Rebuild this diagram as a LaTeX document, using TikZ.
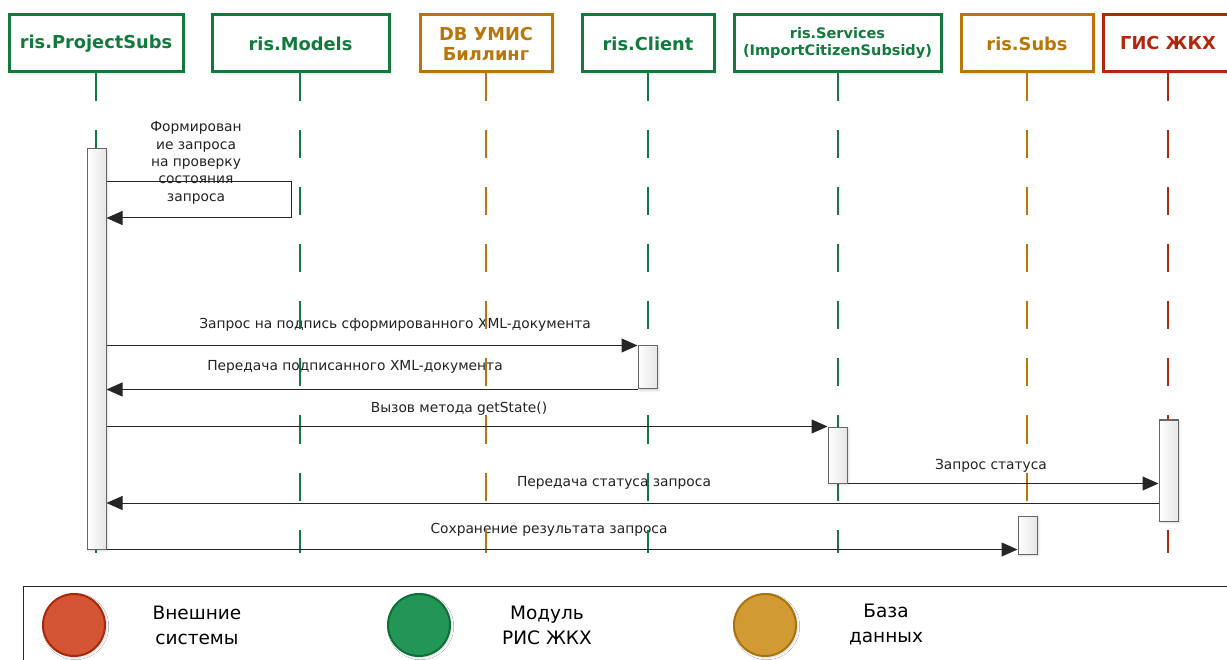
\documentclass[tikz,border=0pt]{standalone}
\usepackage{fontspec}
\setmainfont{DejaVu Sans}
\usetikzlibrary{arrows.meta,shadows.blur,calc}
\definecolor{cgreen}{RGB}{18,122,60}
\definecolor{corange}{RGB}{184,118,8}
\definecolor{cred}{RGB}{178,38,12}
\definecolor{ctext}{RGB}{35,35,35}
\definecolor{lred}{RGB}{211,85,52}
\definecolor{lredb}{RGB}{168,40,12}
\definecolor{lgreen}{RGB}{34,150,86}
\definecolor{lgreenb}{RGB}{14,112,56}
\definecolor{lorange}{RGB}{209,154,50}
\definecolor{lorangeb}{RGB}{170,116,12}
\tikzset{
  softshadow/.style={blur shadow={shadow xshift=1.5pt, shadow yshift=-1.5pt, shadow blur steps=4, shadow opacity=18}},
  head/.style={draw, line width=3pt, fill=white, minimum height=57pt, inner sep=2pt, align=center,
    font=\fontsize{17.8}{20}\selectfont\bfseries, softshadow},
  headsmall/.style={head, font=\fontsize{14.5}{17}\selectfont\bfseries},
  life/.style={line width=2.5pt, dash pattern=on 28pt off 29pt},
  act/.style={draw=black!60, line width=1pt, minimum width=19pt, inner sep=0pt,
    left color=white, right color=black!10, softshadow},
  msg/.style={line width=1pt, draw=black!85, -{Triangle[length=16pt,width=14pt]}},
  lbl/.style={font=\fontsize{13.8}{17.3}\selectfont, text=ctext, inner sep=0pt, align=center},
  legcircle/.style={circle, minimum size=62pt, line width=2pt, inner sep=0pt, softshadow},
  leglbl/.style={font=\fontsize{18.5}{25}\selectfont, text=black, inner sep=0pt, align=center},
}
\begin{document}
\begin{tikzpicture}[x=1pt,y=-1pt]
\useasboundingbox (0,0) rectangle (1227,660);
\clip (0,0) rectangle (1227,660);

% headers
\node[head, draw=cgreen, text=cgreen, minimum width=174pt] (h1) at (96,43.5) {ris.ProjectSubs};
\node[head, draw=cgreen, text=cgreen, minimum width=177pt] (h2) at (300.5,43.5) {ris.Models};
\node[head, draw=corange, text=corange, minimum width=132pt] (h3) at (486,43.5) {DB УМИС\\Биллинг};
\node[head, draw=cgreen, text=cgreen, minimum width=132pt] (h4) at (648,43.5) {ris.Client};
\node[headsmall, draw=cgreen, text=cgreen, minimum width=207pt] (h5) at (837.5,43.5) {ris.Services\\(ImportCitizenSubsidy)};
\node[head, draw=corange, text=corange, minimum width=132pt] (h6) at (1027,43.5) {ris.Subs};
\node[head, draw=cred, text=cred, minimum width=130pt] (h7) at (1168,43.5) {ГИС ЖКХ};

% lifeline ends
\coordinate (e1) at (96,553);
\coordinate (e2) at (300,553);
\coordinate (e3) at (486,553);
\coordinate (e4) at (648,553);
\coordinate (e5) at (838,553);
\coordinate (e6) at (1027,553);
\coordinate (e7) at (1168,553);

% labels
\node[lbl] (l1) at (196,163) {Формирован\\ие запроса\\на проверку\\состояния\\запроса};
\node[lbl] (l2) at (395,325) {Запрос на подпись сформированного XML-документа};
\node[lbl] (l3) at (355,367) {Передача подписанного XML-документа};
\node[lbl] (l4) at (459,409) {Вызов метода getState()};
\node[lbl] (l5) at (991,466) {Запрос статуса};
\node[lbl] (l6) at (614,483) {Передача статуса запроса};
\node[lbl] (l7) at (549,530) {Сохранение результата запроса};

% lifelines
\draw[life, cgreen] (h1.south -| e1) -- (e1);
\draw[life, cgreen] (h2.south -| e2) -- (e2);
\draw[life, corange] (h3.south -| e3) -- (e3);
\draw[life, cgreen] (h4.south -| e4) -- (e4);
\draw[life, cgreen] (h5.south -| e5) -- (e5);
\draw[life, corange] (h6.south -| e6) -- (e6);
\draw[life, cred] (h7.south -| e7) -- (e7);

% activations
\node[act, minimum height=400pt] (a1) at (96.5,349) {};
\node[act, minimum height=43pt] (a2) at (647.5,367.5) {};
\node[act, minimum height=56pt] (a3) at (837.5,455) {};
\node[act, minimum height=101pt] (a4) at (1168.5,470.5) {};
\node[act, minimum height=38pt] (a5) at (1027.5,535) {};

% self message
\coordinate (s0) at (106,182);
\coordinate (s1) at (291,182);
\coordinate (s2) at (291,218);
\coordinate (s3) at (106,218);
\draw[msg] (a1.east |- s0) -- (s1) -- (s2) -- (a1.east |- s3);

% messages
\draw[msg] (a1.east |- a2.north) -- (a2.north west);
\draw[msg] (a2.south west) -- (a1.east |- a2.south);
\draw[msg] (a1.east |- a3.north) -- (a3.north west);
\draw[msg] (a3.south east) -- (a4.west |- a3.south);
\coordinate (m6) at (0,503);
\draw[msg] (a4.west |- m6) -- (a1.east |- m6);
\draw[msg] (a1.south east) -- (a5.west |- a1.south);

% legend
\node[draw=black!85, line width=1pt, fill=white, anchor=north west, minimum width=1230pt, minimum height=100pt, inner sep=0pt, softshadow] (leg) at (23,586) {};
\node[legcircle, fill=lred, draw=lredb] (c1) at (74,625) {};
\node[legcircle, fill=lgreen, draw=lgreenb] (c2) at (419,625) {};
\node[legcircle, fill=lorange, draw=lorangeb] (c3) at (765,625) {};
\node[leglbl] (t1) at (197,625) {Внешние\\системы};
\node[leglbl] (t2) at (547,625) {Модуль\\РИС ЖКХ};
\node[leglbl] (t3) at (886,625) {База\\данных};
\end{tikzpicture}
\end{document}
